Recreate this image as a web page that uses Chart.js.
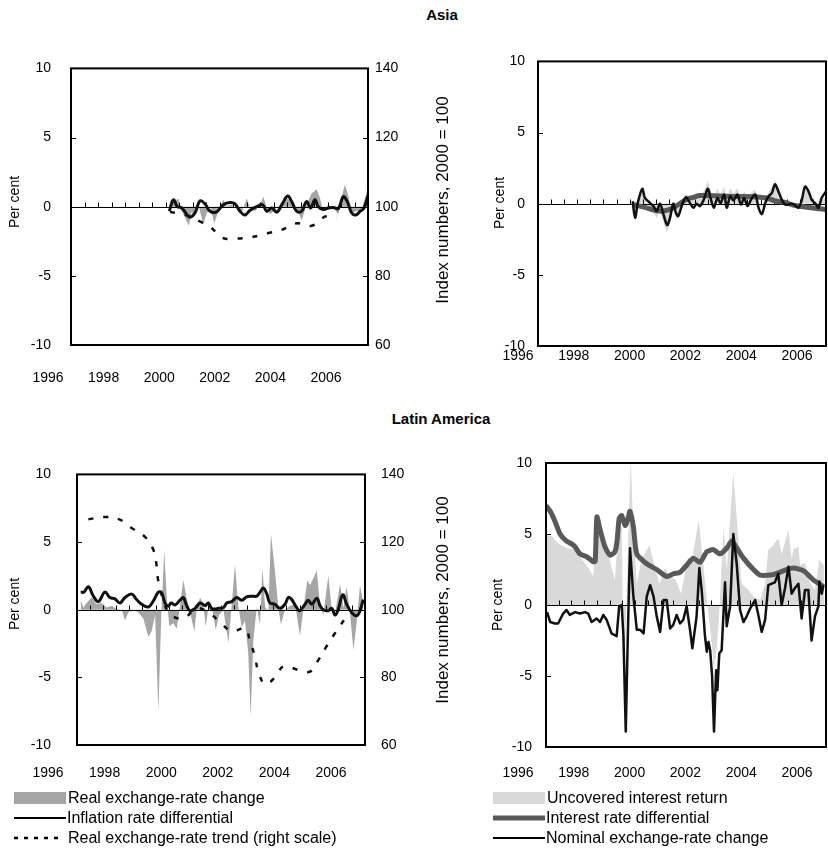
<!DOCTYPE html>
<html><head><meta charset="utf-8">
<script src="https://cdn.jsdelivr.net/npm/chart.js@4.4.1/dist/chart.umd.min.js"></script>
<style>
html,body{margin:0;padding:0;background:#fff;}
#root{position:relative;width:828px;height:865px;overflow:hidden;font-family:"Liberation Sans",Arial,sans-serif;color:#000;}
canvas{position:absolute;}
.title{position:absolute;font-weight:bold;font-size:15px;transform:translate(-50%,-50%);white-space:nowrap;}
.vt{position:absolute;font-size:14px;white-space:nowrap;transform:translate(-50%,-50%) rotate(-90deg);}
.vt.idx{font-size:17px;}
.leg{position:absolute;font-family:"Liberation Sans",Arial,sans-serif;font-size:16px;white-space:nowrap;transform:translateY(-50%);line-height:1;}
svg{position:absolute;left:0;top:0;}
</style></head><body>
<div id="root">
<canvas id="cTL" width="460" height="360" style="left:0;top:40px"></canvas>
<canvas id="cTR" width="368" height="360" style="left:460px;top:40px"></canvas>
<canvas id="cBL" width="460" height="360" style="left:0;top:440px"></canvas>
<canvas id="cBR" width="368" height="360" style="left:460px;top:440px"></canvas>
<div class="title" style="left:442px;top:14px">Asia</div>
<div class="title" style="left:441px;top:418px">Latin America</div>
<div class="vt" style="left:14px;top:202px">Per cent</div>
<div class="vt idx" style="left:443px;top:200px">Index numbers, 2000 = 100</div>
<div class="vt" style="left:499px;top:203px">Per cent</div>
<div class="vt" style="left:14px;top:604px">Per cent</div>
<div class="vt idx" style="left:443px;top:600px">Index numbers, 2000 = 100</div>
<div class="vt" style="left:497px;top:605px">Per cent</div>
<svg width="828" height="865">
 <rect x="14" y="792" width="52" height="12" fill="#a5a5a5"/>
 <line x1="14" y1="818" x2="66" y2="818" stroke="#000" stroke-width="2"/>
 <line x1="14" y1="838" x2="62" y2="838" stroke="#000" stroke-width="2.5" stroke-dasharray="4,6"/>
 <rect x="493" y="792" width="52" height="12" fill="#d9d9d9"/>
 <line x1="493" y1="818" x2="545" y2="818" stroke="#595959" stroke-width="5"/>
 <line x1="493" y1="838" x2="545" y2="838" stroke="#000" stroke-width="2"/>
</svg>
<div class="leg" style="left:68px;top:798px">Real exchange-rate change</div>
<div class="leg" style="left:67px;top:818px">Inflation rate differential</div>
<div class="leg" style="left:68px;top:838px">Real exchange-rate trend (right scale)</div>
<div class="leg" style="left:547px;top:798px">Uncovered interest return</div>
<div class="leg" style="left:546px;top:818px">Interest rate differential</div>
<div class="leg" style="left:546px;top:838px">Nominal exchange-rate change</div>
</div>
<script>
// ---- axis labels ----
const xTickYears = [1996, 1998, 2000, 2002, 2004, 2006];
const xTickLabels = ['1996', '1998', '2000', '2002', '2004', '2006'];
const pctTicks = [-10, -5, 0, 5, 10];
const idxTicks = [60, 80, 100, 120, 140];
const startYear = 1996; // month index 0 = January 1996

// ---- Asia, left panel ----
const asiaRerMonths = [43.7,44.5,46.2,47.7,48.6,50.7,52.4,53.5,55.1,56.6,58.8,60.3,61.8,63.7,65.5,67.7,69.2,71.4,73.6,75.8,78.1,79.6,81.8,84.0,85.5,87.0,88.5,90.0,92.2,93.7,96.0,98.1,100.3,102.5,104.7,106.9,109.2,110.7,112.1,114.4,116.6,118.8,120.3,121.7,123.2,124.7,126.9,129.1,130.6,132];
const asiaRerValues = [-0.3,0.2,0.37,0.6,-0.1,-0.8,-1.38,-0.4,-0.5,0.15,-1.26,-0.5,0,-1.2,-0.3,0.5,0.05,0.15,-0.1,-0.45,0.6,-0.1,-0.33,0.15,0.72,-0.1,-0.55,-0.33,0.05,0.15,0.6,0.37,-0.1,-1.0,0.15,0.95,1.26,0.6,-0.33,0.15,-0.1,-0.55,0.72,1.58,0.85,-0.44,-0.33,-0.2,0.6,1.45];
const asiaInflMonths = [43.7,45.5,47.3,48.8,50.2,52.6,55.1,57.3,59.6,61.8,64.7,67.7,70.7,72.9,75.1,77.3,79.6,82.5,85.2,87,89.2,91.5,94.1,96.3,98.1,100.3,102.5,104.7,106.5,108.4,109.9,112.1,114.4,116.6,118.8,121,122.8,124.7,126.6,128.5,130.2,132];
const asiaInflValues = [-0.33,0.5,0,-0.05,-0.28,-0.75,-0.45,0.42,0.2,-0.33,-0.37,0.14,0.3,0.2,-0.33,-0.6,-0.26,0,0.14,-0.33,-0.1,-0.4,0.26,0.77,0.37,-0.33,-0.33,0.37,-0.1,0.5,0,-0.2,-0.1,-0.05,-0.14,0.72,0.37,-0.44,-0.6,-0.33,-0.1,0.8];
const asiaTrendMonths = [44,48,52.6,57,61.8,67.4,73.6,80.3,87.3,93.6,100.3,107,113.6,118];
const asiaTrendValues = [98.5,98.0,97.3,95.8,94.2,91.0,90.8,91.2,92.3,93.3,95.2,94.5,97.3,96.8];

// ---- Asia, right panel ----
const asiaUirMonths = [43.5,44.5,47.8,49,52.9,54.4,55.9,57.5,59,60.5,62,63.2,64.3,66,67.8,69.6,71.2,72.7,74.2,76,77.8,79.1,80.6,82.2,83.5,85.3,86.5,88.1,89.6,91.4,93,94.5,96,97.9,99.6,101.1,102.6,104.2,105.7,108.6,110.1,111.7,113.2,114.7,117,119.3,120.8,122.4,124,125.4,127.4,128.5,130,132];
const asiaUirValues = [0,-0.8,0.9,0.2,-0.6,-1.0,-0.5,-1.3,-2.0,-1.4,-0.4,-1.1,-1.0,0.1,0.7,0.5,0.3,0.5,0.5,0.9,1.6,1.0,0.3,1.1,0.6,1.2,0.3,1.1,0.7,1.1,0.4,0.9,0.3,0.8,1.0,0.1,-0.3,0.4,0.8,1.65,1.2,0.5,0.1,0,0,-0.3,0.2,1.3,0.9,0.2,-0.2,-0.6,0.2,0.5];
const asiaIrdMonths = [43.7,46,49.8,53,55.9,58,60.5,63,65,68,71.2,74.2,80,86.5,95,101.8,104.8,109.4,114,117,123.2,129.3,132];
const asiaIrdValues = [-0.06,-0.15,-0.29,-0.45,-0.52,-0.5,-0.4,-0.2,0,0.3,0.45,0.57,0.55,0.52,0.5,0.45,0.4,0.17,0.06,-0.1,-0.25,-0.36,-0.4];
const asiaNomMonths = [43.4,44.5,45.8,47.8,49,51,52.9,54.4,55.9,57.5,59.2,60.5,62,63.2,64.3,66.2,67.8,69.6,71.2,72.7,74.2,76,77.8,79.1,80.6,82.2,83.7,85.3,86.5,88.1,89.6,91.4,93,94.5,96,97.9,99.6,101.1,102.6,104.2,105.7,107.2,108.6,110.1,111.7,113.2,114.7,116.2,117.7,119.3,120.8,122.4,124,125.4,127.2,128.5,130,132];
const asiaNomValues = [0.17,-1.0,0.1,1.05,0.4,0.1,-0.17,-0.52,0,-0.75,-1.5,-1.0,0,-0.64,-0.87,0,0.45,0.06,-0.29,0,-0.17,0.29,1.05,0.4,-0.29,0.4,0.05,0.64,-0.29,0.52,0.22,0.64,-0.06,0.4,-0.17,0.36,0.64,-0.29,-0.73,0.06,0.52,0.75,1.36,0.9,0.29,-0.06,-0.06,0,-0.1,-0.29,0.2,1.2,0.87,0.29,0,-0.29,0.4,0.87];

// ---- Latin America, left panel ----
const latRerMonths = [1.7,2.9,4.4,6.7,9.0,11.3,13.6,15.9,18.2,20.5,22,23.5,25.8,28.1,30.4,32.7,34.2,35.8,37.3,38.6,40.0,41.1,42.3,44.2,45.7,47.2,48.7,50.3,51.8,53.8,54.8,56.4,57.9,59,60.2,61.7,63.6,65.1,67.1,69.4,70.9,72.4,73.9,75.5,77,78.5,79.6,80.8,82.4,83.9,85,86.2,87.7,88.9,90.7,92.3,93.5,95.3,97.7,100,102.2,103.7,105.6,106.8,108.3,109.9,111.4,112.9,115.2,116.7,118.3,120.6,122.1,123.6,125.1,126.7,128.2,129.7,131.2];
const latRerValues = [0.75,0.15,0.5,0.9,0.4,0.5,0.17,0.3,0.05,0,-0.8,-0.2,0,-0.2,-0.65,-2.0,-1.6,-0.4,-7.5,-0.5,4.4,1.0,-1.2,-1.0,-1.4,0.3,2.2,0.8,-0.2,-1.6,0,0.9,0.4,-1.25,0.1,0.3,-1.5,-0.4,0,-2.45,0.3,3.35,0.3,-1.3,-0.8,-3.2,-7.9,-2.3,0.2,-1.1,3.1,0.2,-0.1,5.6,2.9,0.1,-1.1,0,0.3,0.4,-1.95,0,2.2,1.8,2.3,2.9,0.3,-0.4,2.5,0.1,-0.2,1.9,0.1,1.7,-0.2,-3.0,-0.9,1.8,0.5];
const latInflMonths = [1.7,3.2,5.2,7.5,9.8,12.8,15.1,17.4,19.7,22,25.1,27.3,29.6,32.7,35,37.3,38.8,40.3,41.9,43.1,44.9,47.2,48.7,50.3,51.8,54.1,56.4,58.7,60.2,61.7,63.3,64.8,67.1,68.6,70.9,73.2,75.5,77.8,80.1,82.4,83.9,85.4,86.9,88.4,90.7,93,95.3,96.9,98.4,100.7,102.2,104.5,106,107.6,109.9,111.4,112.9,115.2,116.7,118.3,119.8,121.8,123.6,125.9,128.2,129.7,131.2];
const latInflValues = [1.3,1.3,1.7,1.0,0.6,1.3,0.9,0.8,0.5,0.9,1.15,0.75,0.4,0.2,0.65,1.3,1.25,0.5,0.25,0.5,0.35,0.7,0.9,0.3,-0.07,0.1,0.5,0.3,0.5,0.1,0.05,0.1,0.15,0.5,0.6,0.9,0.7,0.95,1.0,1.0,1.3,1.6,1.2,0.5,0.4,0.1,0.4,0.9,0.75,0.15,-0.07,0.4,0.7,0.4,0.85,0.3,0,-0.07,0.1,-0.4,0.05,1.1,0.4,-0.2,-0.45,-0.07,0.75];
const latTrendMonths = [5.2,11.9,19.4,24.7,31.2,35,36.5,37.2,39.5,42.5,48.7,54.8,60.2,65.5,70.9,77,79.3,81.6,83.1,86.2,90.8,94.6,101.5,106.8,110.6,114.5,118.3,122.9,125.1];
const latTrendValues = [126.7,127.4,126.7,124.3,121.5,117.7,113,108.7,103,98.8,97.4,100.4,99.2,96.4,93.6,94.5,90.7,86,81.7,78,80,83.2,82.2,81.7,85.1,89.3,93.1,97.4,99.2];

// ---- Latin America, right panel ----
const latUirMonths = [0,3,6,10,14,18,20,22.3,23.9,27,30,32.5,34,35.7,36.5,37.2,38.5,39.9,41.2,42.8,45,48.8,50.4,53.5,55.9,58.2,61.3,63.7,66.8,69.1,72,73.9,76.3,77.9,79.2,80.5,81.5,83.7,85.2,88.3,89.9,92.2,95.4,97.8,100.9,103.3,104.8,107.2,109.5,111.1,114.3,115.8,116.6,119,119.8,122.1,124.5,126.8,128.9,131];
const latUirValues = [5.0,4.8,4.3,4.0,3.9,3.0,2.6,2.0,6.0,3.9,3.2,1.75,5.3,5.5,-3.5,-3.3,3.0,10.5,5.0,1.5,3.2,4.2,3.2,1.5,2.6,2.1,1.75,0.8,3.3,3.4,6.0,3.2,-0.35,-2.35,-4.5,-3.0,-1.0,5.5,2.5,9.3,6.2,1.5,1.05,0.6,0.35,1.5,3.9,4.2,4.7,3.6,5.3,3.2,3.9,4.1,2.8,3.0,1.5,1.05,3.2,2.8];
const latIrdMonths = [0,2,4.2,6.6,9.7,12.1,13.7,16,19.2,22.3,23.2,24,25.5,27.8,30.2,32.5,33.5,34.5,35.7,37.3,38.5,39.6,41.2,42.8,47.5,52.2,56.9,60,63.2,66.3,69.5,72.6,75.8,78.9,82,85.2,87.6,90,93.1,97.8,101,107.3,113.6,116.7,121.5,126.2,130.8];
const latIrdValues = [7.0,6.6,5.9,5.0,4.5,4.3,4.1,3.6,3.4,3.05,3.1,6.2,5.3,4.1,3.5,3.75,4.5,6.1,6.3,5.6,6.0,6.6,5.5,3.6,2.9,2.5,2.0,2.2,2.3,2.8,3.3,3.0,3.75,3.9,3.6,4.0,4.5,4.0,3.3,2.5,2.1,2.15,2.5,2.6,2.4,1.75,1.3];
const latNomMonths = [0.5,2,4.2,5.7,8.1,9.7,11.2,13.7,16,18.4,19.9,21.5,23.9,25.5,27,28.6,30.9,33.3,34.5,35.7,36.5,37.6,38.6,39.6,41.2,42.8,44.4,46,47.5,49.1,50.7,52.2,53.8,55.4,56.9,58.5,60,61.6,63.2,64.7,66.3,67.9,69,71,72.3,73.4,74.9,75.8,76.6,77.4,78.3,79.2,80.2,80.8,81.7,82.8,84.4,85.2,86.8,88.3,89.9,91.5,93.1,94.6,96.2,98.6,100.1,101.7,103.3,104.8,106.4,107.9,109.5,111.1,112.7,114.3,115.8,117.4,119,120.5,122.1,123.7,125.2,126.8,128.4,128.9,130,130.8];
const latNomValues = [-0.5,-1.2,-1.3,-1.3,-0.6,-0.35,-0.7,-0.5,-0.6,-0.5,-0.6,-1.2,-0.95,-1.2,-0.7,-1.05,-2.0,-2.2,-0.1,0,-2.2,-8.9,-2.0,4.0,0.6,-1.75,-1.75,-2.0,0.6,1.4,0.6,-0.8,-1.9,0.35,0.35,-1.65,-1.4,-0.7,-1.3,-1.05,-0.1,-1.75,-3.05,-0.8,2.6,1.05,-2.1,-3.3,-2.6,-3.2,-5.0,-8.9,-4.6,-6.0,-3.4,-3.2,1.6,-1.5,-0.1,5.0,2.9,-0.35,-1.2,-0.8,-0.25,0.35,-0.7,-1.9,-1.05,1.4,1.5,1.6,2.2,0,1.2,2.7,0.8,1.2,1.5,-0.95,1.05,1.05,-2.5,-0.8,-0.1,1.65,0.8,1.4];

// ---- helpers ----
function pts(months, values) {
  return months.map((m, i) => ({ x: startYear + m / 12, y: values[i] }));
}
const C = {
  rer: '#a6a6a6', uir: '#d9d9d9', ird: '#595959', black: '#111111'
};
function areaDs(label, months, values, color) {
  return { label, data: pts(months, values), fill: 'origin', backgroundColor: color,
    borderWidth: 0, pointRadius: 0, tension: 0, yAxisID: 'y', xAxisID: 'x' };
}
function lineDs(label, months, values, color, width, extra) {
  return Object.assign({ label, data: pts(months, values), fill: false, borderColor: color,
    borderWidth: width, pointRadius: 0, tension: 0, yAxisID: 'y', xAxisID: 'x',
    borderJoinStyle: 'round', borderCapStyle: 'butt' }, extra || {});
}

const framePlugin = {
  id: 'frame',
  afterDatasetDraw(chart, args) {
    if (args.index !== chart.data.datasets.length - 1) return;
    const { ctx, chartArea: a, scales } = chart;
    const y0 = Math.round(scales.y.getPixelForValue(0)) + 0.5;
    ctx.save();
    ctx.strokeStyle = '#000';
    ctx.lineWidth = 1;
    ctx.beginPath();
    ctx.moveTo(a.left, y0); ctx.lineTo(a.right, y0);
    for (let t = 1996.5; t < 2007; t += 0.5) {
      const px = Math.round(scales.x.getPixelForValue(t)) + 0.5;
      ctx.moveTo(px, y0); ctx.lineTo(px, y0 - 5);
    }
    ctx.stroke();
    ctx.restore();
  },
  afterDraw(chart) {
    const { ctx, chartArea: a, scales } = chart;
    ctx.save();
    ctx.strokeStyle = '#000';
    ctx.lineWidth = 1;
    ctx.beginPath();
    [5, -5].forEach(v => {
      const py = Math.round(scales.y.getPixelForValue(v)) + 0.5;
      ctx.moveTo(a.left, py); ctx.lineTo(a.left + 5, py);
    });
    if (scales.y2) {
      [120, 100, 80].forEach(v => {
        const py = Math.round(scales.y2.getPixelForValue(v)) + 0.5;
        ctx.moveTo(a.right, py); ctx.lineTo(a.right - 5, py);
      });
    }
    ctx.stroke();
    ctx.lineWidth = 2;
    ctx.strokeRect(a.left, a.top, a.right - a.left, a.bottom - a.top);
    ctx.restore();
  }
};

function makePanel(id, p) {
  const scales = {
    x: { type: 'linear', min: 1996, max: 2007, display: false },
    xl: {
      type: 'linear', position: 'bottom', min: 1996, max: p.xlMax,
      grid: { display: false, drawTicks: false }, border: { display: false },
      afterBuildTicks: s => { s.ticks = xTickYears.map(v => ({ value: v })); },
      ticks: { autoSkip: false, maxRotation: 0, minRotation: 0, padding: p.xlPad, labelOffset: p.xlOff,
        color: '#000', font: { family: p.xFont, size: p.xSize },
        callback: (v, i) => xTickLabels[i] },
      afterFit: s => { s.height = p.xlH; s.paddingLeft = 0; s.paddingRight = 0; }
    },
    y: {
      type: 'linear', position: 'left', min: -10, max: 10,
      grid: { display: false, drawTicks: false }, border: { display: false },
      afterBuildTicks: s => { s.ticks = pctTicks.map(v => ({ value: v })); },
      ticks: { padding: p.yPad, color: '#000', font: { family: 'Liberation Sans', size: 14 } },
      afterFit: s => { s.width = p.yW; }
    }
  };
  if (p.y2W) {
    scales.y2 = {
      type: 'linear', position: 'right', min: 60, max: 140,
      grid: { display: false, drawTicks: false }, border: { display: false },
      afterBuildTicks: s => { s.ticks = idxTicks.map(v => ({ value: v })); },
      ticks: { padding: p.y2Pad, color: '#000', font: { family: 'Liberation Sans', size: 14 } },
      afterFit: s => { s.width = p.y2W; }
    };
  }
  return new Chart(document.getElementById(id), {
    type: 'line',
    data: { datasets: p.datasets },
    options: {
      responsive: false, animation: false, devicePixelRatio: 1,
      layout: { padding: { top: p.padT, right: p.padR || 0, left: 0, bottom: 0 } },
      plugins: { legend: { display: false }, tooltip: { enabled: false } },
      scales
    },
    plugins: [framePlugin]
  });
}

const regular = '"Liberation Sans", Arial, sans-serif';

makePanel('cTL', {
  padT: 19, yW: 71, yPad: 20, y2W: 92, y2Pad: 7, xlH: 55, xlPad: 25, xlOff: -23,
  xlMax: 1996 + 10 * 297 / 278, xFont: regular, xSize: 14,
  datasets: [
    lineDs('Inflation rate differential', asiaInflMonths, asiaInflValues, C.black, 3, { tension: 0.4 }),
    lineDs('Real exchange-rate trend (right scale)', asiaTrendMonths, asiaTrendValues, C.black, 2.5, { yAxisID: 'y2', borderDash: [5, 10], tension: 0.4 }),
    areaDs('Real exchange-rate change', asiaRerMonths, asiaRerValues, C.rer)
  ]
});
makePanel('cTR', {
  padT: 19, padR: 2, yW: 78, yPad: 13, xlH: 54, xlPad: 2, xlOff: -20,
  xlMax: 1996 + 10 * 288 / 279, xFont: regular, xSize: 14,
  datasets: [
    lineDs('Nominal exchange-rate change', asiaNomMonths, asiaNomValues, C.black, 2.5, { tension: 0.3 }),
    lineDs('Interest rate differential', asiaIrdMonths, asiaIrdValues, C.ird, 5, { tension: 0.4 }),
    areaDs('Uncovered interest return', asiaUirMonths, asiaUirValues, C.uir)
  ]
});
makePanel('cBL', {
  padT: 23, yW: 77, yPad: 26, y2W: 95, y2Pad: 16, xlH: 55, xlPad: 20, xlOff: -29,
  xlMax: 1996 + 10 * 288 / 283, xFont: regular, xSize: 14,
  datasets: [
    lineDs('Inflation rate differential', latInflMonths, latInflValues, C.black, 3, { tension: 0.4 }),
    lineDs('Real exchange-rate trend (right scale)', latTrendMonths, latTrendValues, C.black, 2.5, { yAxisID: 'y2', borderDash: [5, 10], tension: 0.4 }),
    areaDs('Real exchange-rate change', latRerMonths, latRerValues, C.rer)
  ]
});
makePanel('cBR', {
  padT: 23, padR: 2, yW: 86, yPad: 14, xlH: 53, xlPad: 18, xlOff: -28,
  xlMax: 1996 + 10 * 280 / 279, xFont: regular, xSize: 14,
  datasets: [
    lineDs('Nominal exchange-rate change', latNomMonths, latNomValues, C.black, 2.5),
    lineDs('Interest rate differential', latIrdMonths, latIrdValues, C.ird, 5, { tension: 0.2 }),
    areaDs('Uncovered interest return', latUirMonths, latUirValues, C.uir)
  ]
});
</script>
</body></html>
